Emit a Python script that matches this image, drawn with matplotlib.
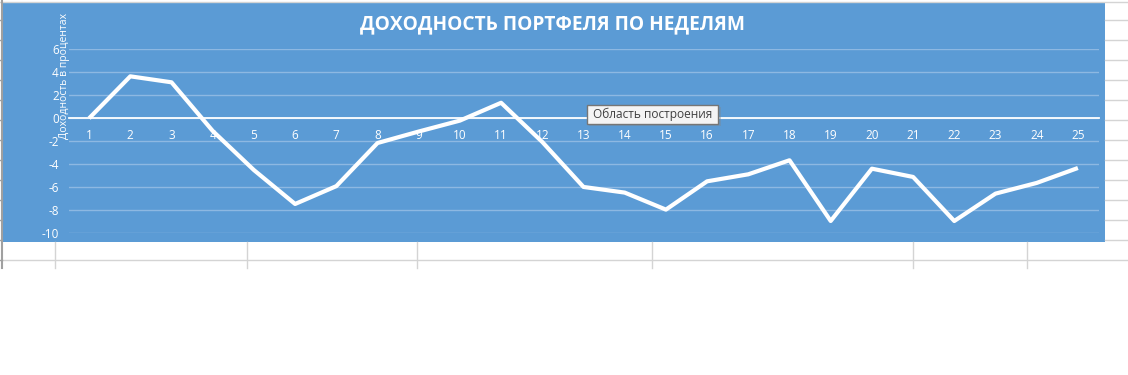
import matplotlib
matplotlib.use("Agg")
import matplotlib.pyplot as plt
from matplotlib.lines import Line2D
from matplotlib.patches import Rectangle

# ---- data ----
weeks = [str(i) for i in range(1, 26)]
returns = [0.0, 3.65, 3.13, -1.1, -4.5, -7.45, -5.9, -2.15, -1.15, -0.2,
           1.35, -2.06, -5.97, -6.46, -7.94, -5.48, -4.87, -3.65, -8.93, -4.38,
           -5.1, -8.93, -6.55, -5.62, -4.32]
y_ticks = [-10, -8, -6, -4, -2, 0, 2, 4, 6]
title = "ДОХОДНОСТЬ ПОРТФЕЛЯ ПО НЕДЕЛЯМ"
y_title = "Доходность в процентах"
tooltip = "Область построения"

W, H = 1128, 375
fig = plt.figure(figsize=(W / 100, H / 100), dpi=100)
fig.patch.set_facecolor("white")

def fx(px):
    return px / W

def fy(py):
    return 1 - py / H

grid_c = "#d4d4d4"
# spreadsheet grid (background)
for ry in range(20, 280, 20):
    if ry <= 242:
        fig.add_artist(Line2D([fx(1105), 1], [fy(ry), fy(ry)], color=grid_c, lw=1))
    elif ry <= 262:
        fig.add_artist(Line2D([fx(3), 1], [fy(ry), fy(ry)], color=grid_c, lw=1))
fig.add_artist(Line2D([fx(0), 1], [fy(1.5), fy(1.5)], color=grid_c, lw=1))
for cx in [55, 247, 417, 652, 913, 1027]:
    fig.add_artist(Line2D([fx(cx), fx(cx)], [fy(242), fy(268)], color=grid_c, lw=1))
fig.add_artist(Line2D([fx(2), fx(2)], [fy(0), fy(268)], color="#a0a0a0", lw=1.5))
for ry in range(20, 280, 20):
    fig.add_artist(Line2D([fx(0), fx(2)], [fy(ry), fy(ry)], color="#a0a0a0", lw=1))

# chart area
blue = "#5b9bd5"
fig.add_artist(Rectangle((fx(3), fy(241.5)), fx(1105) - fx(3), fy(2) - fy(241.5),
                         transform=fig.transFigure, facecolor=blue, edgecolor="none", zorder=0))

# plot area
left, right = 68.5, 1098.5
top, bottom = 49.3, 233.3
ax = fig.add_axes([fx(left), fy(bottom), fx(right) - fx(left), fy(top) - fy(bottom)])
ax.set_facecolor("none")
x = list(range(1, len(weeks) + 1))
ax.set_xlim(0.5, len(weeks) + 0.5)
ax.set_ylim(-10, 6)
ax.set_yticks(y_ticks)
ax.set_yticklabels([str(v) for v in y_ticks])
ax.set_xticks(x)
ax.set_xticklabels(weeks)
for s in ["top", "right", "left"]:
    ax.spines[s].set_visible(False)
ax.spines["bottom"].set_position(("data", 0))
ax.spines["bottom"].set_color("white")
ax.spines["bottom"].set_linewidth(1.3)
ax.tick_params(axis="both", length=0, colors="white", labelsize=8.5)
ax.tick_params(axis="x", pad=8)
ax.tick_params(axis="y", pad=7)
for lab in ax.get_xticklabels() + ax.get_yticklabels():
    lab.set_fontfamily("Open Sans")
ax.yaxis.grid(True, color="#8db8e2", lw=1)
ax.set_axisbelow(True)
ax.plot(x, returns, color="white", lw=3.0, solid_capstyle="butt", zorder=3)

fig.text(fx(552), fy(24), title, color="white", fontsize=13.8, fontweight="bold",
         family="Open Sans", ha="center", va="center")
fig.text(fx(64), fy(76), y_title, color="white", fontsize=7.5, family="Open Sans",
         rotation=90, ha="center", va="center")

# tooltip
fig.add_artist(Rectangle((fx(589), fy(126)), fx(719) - fx(587), fy(105) - fy(124),
                         transform=fig.transFigure, facecolor="#7a8a9a", alpha=0.45,
                         edgecolor="none", zorder=5))
fig.add_artist(Rectangle((fx(587), fy(124)), fx(718) - fx(587), fy(105) - fy(124),
                         transform=fig.transFigure, facecolor="#f4f4f4",
                         edgecolor="#767676", lw=1, zorder=6))
fig.text(fx(652.5), fy(114.5), tooltip, color="#404040", fontsize=8.6, family="Open Sans",
         ha="center", va="center", zorder=7)

fig.savefig("out.png", dpi=100)
